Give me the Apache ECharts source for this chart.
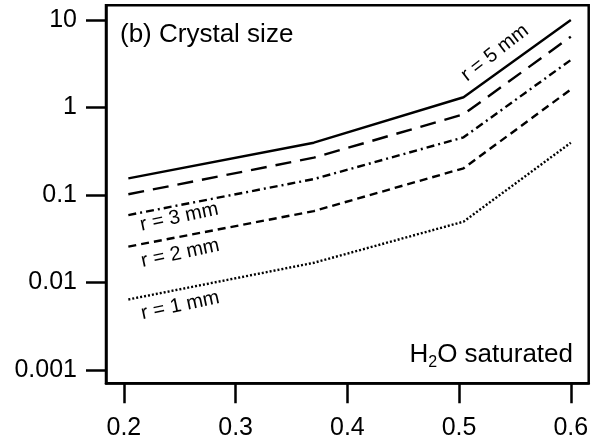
<!DOCTYPE html>
<html>
<head>
<meta charset="utf-8">
<script src="https://cdn.jsdelivr.net/npm/echarts@6/dist/echarts.min.js"></script>
<style>
html,body{margin:0;padding:0;background:#fff;}
#chart{width:597px;height:444px;}
</style>
</head>
<body>
<div id="chart"></div>
<script>
// ---- data ----
const xTickValues = [0.2, 0.3, 0.4, 0.5, 0.6];
const xTickLabels = ['0.2', '0.3', '0.4', '0.5', '0.6'];
const yTickValues = [0.001, 0.01, 0.1, 1, 10];
const yTickLabels = ['0.001', '0.01', '0.1', '1', '10'];
const meltX = [0.204, 0.37, 0.504, 0.6];
const r5mm = [0.155, 0.396, 1.31, 10.0];
const r4mm = [0.102, 0.267, 0.836, 6.45];
const r3mm = [0.059, 0.152, 0.456, 3.49];
const r2mm = [0.0257, 0.0655, 0.202, 1.61];
const r1mm = [0.0064, 0.0168, 0.0496, 0.396];
const panelTitle = '(b) Crystal size';
const curveLabels = ['r = 5 mm', 'r = 3 mm', 'r = 2 mm', 'r = 1 mm'];

// ---- styling / layout ----
const FONT = '"Liberation Sans", Arial, sans-serif';
const pairs = (xs, ys) => xs.map((x, i) => [x, ys[i]]);
const lineSeries = (name, ys, type) => ({
  name, type: 'line', data: pairs(meltX, ys), symbol: 'none', silent: true,
  lineStyle: { color: '#000', width: 2.4, type: type, cap: 'butt' }
});

const chart = echarts.init(document.getElementById('chart'), null, { renderer: 'canvas' });
chart.setOption({
  animation: false,
  backgroundColor: '#fff',
  grid: {
    left: 106, right: 8.3, top: 5.3, bottom: 60.7,
    show: true, borderColor: '#000', borderWidth: 2.5, backgroundColor: 'transparent'
  },
  xAxis: {
    type: 'value', min: 0.184, max: 0.616,
    splitLine: { show: false },
    axisLine: { show: true, lineStyle: { color: '#000', width: 2.5 } },
    axisTick: { show: true, inside: false, length: 20, lineStyle: { color: '#000', width: 2.5 }, customValues: xTickValues },
    axisLabel: {
      customValues: xTickValues, margin: 32, color: '#000', fontSize: 25, fontFamily: FONT,
      formatter: v => { const i = xTickValues.findIndex(t => Math.abs(t - v) < 1e-9); return i >= 0 ? xTickLabels[i] : ''; }
    }
  },
  yAxis: {
    type: 'log', logBase: 10, min: 0.000705, max: 14.72,
    splitLine: { show: false },
    axisLine: { show: true, lineStyle: { color: '#000', width: 2.5 } },
    axisTick: { show: true, inside: false, length: 20, lineStyle: { color: '#000', width: 2.5 }, customValues: yTickValues },
    axisLabel: {
      customValues: yTickValues, margin: 29, color: '#000', fontSize: 25, fontFamily: FONT,
      formatter: v => { const i = yTickValues.findIndex(t => Math.abs(Math.log10(t) - Math.log10(v)) < 1e-6); return i >= 0 ? yTickLabels[i] : ''; }
    }
  },
  series: [
    lineSeries('r = 5 mm', r5mm, 'solid'),
    lineSeries('r = 4 mm', r4mm, [16, 9]),
    lineSeries('r = 3 mm', r3mm, [8, 4, 2, 4]),
    lineSeries('r = 2 mm', r2mm, [8, 5]),
    lineSeries('r = 1 mm', r1mm, [2, 2])
  ]
});

// ---- annotations (anchored in data coordinates) ----
const annot = [
  { text: curveLabels[0], at: [0.532, 4.2], rot: 38 },
  { text: curveLabels[1], at: [0.2495, 0.0558], rot: 12 },
  { text: curveLabels[2], at: [0.2505, 0.0215], rot: 12 },
  { text: curveLabels[3], at: [0.2505, 0.00545], rot: 12 }
];
const ctx = document.createElement('canvas').getContext('2d');
function tw(str, size) { ctx.font = size + 'px ' + FONT; return ctx.measureText(str).width; }

const graphics = annot.map(a => {
  const p = chart.convertToPixel({ gridIndex: 0 }, a.at);
  return {
    type: 'text', x: p[0], y: p[1], rotation: a.rot * Math.PI / 180, silent: true,
    style: { text: a.text, fontSize: 20, fontFamily: FONT, fill: '#000', align: 'center', verticalAlign: 'middle' }
  };
});
graphics.push({
  type: 'text', x: 120, y: 34.5, silent: true,
  style: { text: panelTitle, fontSize: 26, fontFamily: FONT, fill: '#000', align: 'left', verticalAlign: 'middle' }
});
// H2O saturated, right aligned
const rightEdge = 573;
const mainPart = 'O saturated';
const wMain = tw(mainPart, 26), wSub = tw('2', 16);
graphics.push({ type: 'text', x: rightEdge, y: 355, silent: true,
  style: { text: mainPart, fontSize: 26, fontFamily: FONT, fill: '#000', align: 'right', verticalAlign: 'middle' } });
graphics.push({ type: 'text', x: rightEdge - wMain, y: 363, silent: true,
  style: { text: '2', fontSize: 16, fontFamily: FONT, fill: '#000', align: 'right', verticalAlign: 'middle' } });
graphics.push({ type: 'text', x: rightEdge - wMain - wSub, y: 355, silent: true,
  style: { text: 'H', fontSize: 26, fontFamily: FONT, fill: '#000', align: 'right', verticalAlign: 'middle' } });
chart.setOption({ graphic: graphics });
</script>
</body>
</html>
